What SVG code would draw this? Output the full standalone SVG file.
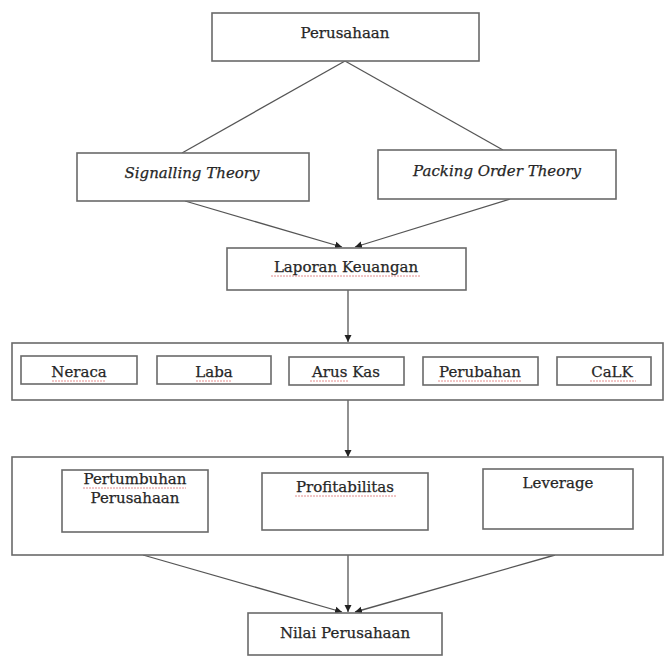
<svg xmlns="http://www.w3.org/2000/svg" width="667" height="657" viewBox="0 0 667 657">
<style>
.box{fill:#fff;stroke:#6a6a6a;stroke-width:1.6}
.t{font-family:"DejaVu Serif","Liberation Serif",serif;font-size:15px;fill:#262626;stroke:#262626;stroke-width:0.25;text-anchor:middle}
.i{font-style:italic}
.ln{stroke:#555;stroke-width:1.3;fill:none}
.sq{stroke:#d04040;stroke-width:1;stroke-dasharray:2 1;opacity:0.6;fill:none}
</style>
<defs>
<marker id="ah" markerWidth="8" markerHeight="8" refX="7" refY="4" orient="auto" markerUnits="userSpaceOnUse">
<path d="M0,0.5 L7,4 L0,7.5 Z" fill="#222"/>
</marker>
</defs>
<rect width="667" height="657" fill="#fff"/>
<g id="connectors">
<line class="ln" x1="345" y1="61" x2="182" y2="153"/>
<line class="ln" x1="345" y1="61" x2="503" y2="150"/>
<line class="ln" x1="185" y1="201" x2="342" y2="247" marker-end="url(#ah)"/>
<line class="ln" x1="510" y1="199" x2="355" y2="247" marker-end="url(#ah)"/>
<line class="ln" x1="348" y1="290" x2="348" y2="342" marker-end="url(#ah)"/>
<line class="ln" x1="348" y1="400" x2="348" y2="457" marker-end="url(#ah)"/>
<line class="ln" x1="143" y1="555" x2="342" y2="612" marker-end="url(#ah)"/>
<line class="ln" x1="348" y1="555" x2="348" y2="612" marker-end="url(#ah)"/>
<line class="ln" x1="555" y1="555" x2="355" y2="612" marker-end="url(#ah)"/>
</g>
<g id="perusahaan">
<rect class="box" x="212" y="13" width="267" height="48"/>
<text class="t" x="345" y="38">Perusahaan</text>
</g>
<g id="signalling">
<rect class="box" x="77" y="153" width="232" height="48"/>
<text class="t i" x="192" y="178">Signalling Theory</text>
</g>
<g id="packing">
<rect class="box" x="378" y="150" width="238" height="49"/>
<text class="t i" x="497" y="176">Packing Order Theory</text>
</g>
<g id="laporan">
<rect class="box" x="227" y="248" width="239" height="42"/>
<text class="t" x="346" y="272">Laporan Keuangan</text>
<line class="sq" x1="271" y1="276" x2="421" y2="276"/>
</g>
<g id="komponen">
<rect class="box" x="12" y="343" width="651" height="57"/>
</g>
<g id="neraca">
<rect class="box" x="21" y="356" width="116" height="28"/>
<text class="t" x="79" y="377">Neraca</text>
<line class="sq" x1="52" y1="381" x2="106" y2="381"/>
</g>
<g id="laba">
<rect class="box" x="157" y="356" width="114" height="28"/>
<text class="t" x="214" y="377">Laba</text>
<line class="sq" x1="196" y1="381" x2="232" y2="381"/>
</g>
<g id="aruskas">
<rect class="box" x="289" y="357" width="115" height="28"/>
<text class="t" x="346" y="377">Arus Kas</text>
<line class="sq" x1="310" y1="381" x2="348" y2="381"/>
</g>
<g id="perubahan">
<rect class="box" x="423" y="357" width="115" height="28"/>
<text class="t" x="480" y="377">Perubahan</text>
<line class="sq" x1="438" y1="381" x2="522" y2="381"/>
</g>
<g id="calk">
<rect class="box" x="557" y="357" width="94" height="28"/>
<text class="t" x="612" y="377">CaLK</text>
<line class="sq" x1="590" y1="381" x2="636" y2="381"/>
</g>
<g id="variabel">
<rect class="box" x="12" y="457" width="651" height="98"/>
</g>
<g id="pertumbuhan">
<rect class="box" x="62" y="470" width="146" height="62"/>
<text class="t" x="135" y="484">Pertumbuhan</text>
<text class="t" x="135" y="503">Perusahaan</text>
<line class="sq" x1="83" y1="488" x2="186" y2="488"/>
</g>
<g id="profitabilitas">
<rect class="box" x="262" y="473" width="166" height="57"/>
<text class="t" x="345" y="492">Profitabilitas</text>
<line class="sq" x1="295" y1="496" x2="396" y2="496"/>
</g>
<g id="leverage">
<rect class="box" x="483" y="469" width="150" height="60"/>
<text class="t" x="558" y="488">Leverage</text>
</g>
<g id="nilai">
<rect class="box" x="248" y="613" width="194" height="42"/>
<text class="t" x="345" y="638">Nilai Perusahaan</text>
</g>
</svg>
